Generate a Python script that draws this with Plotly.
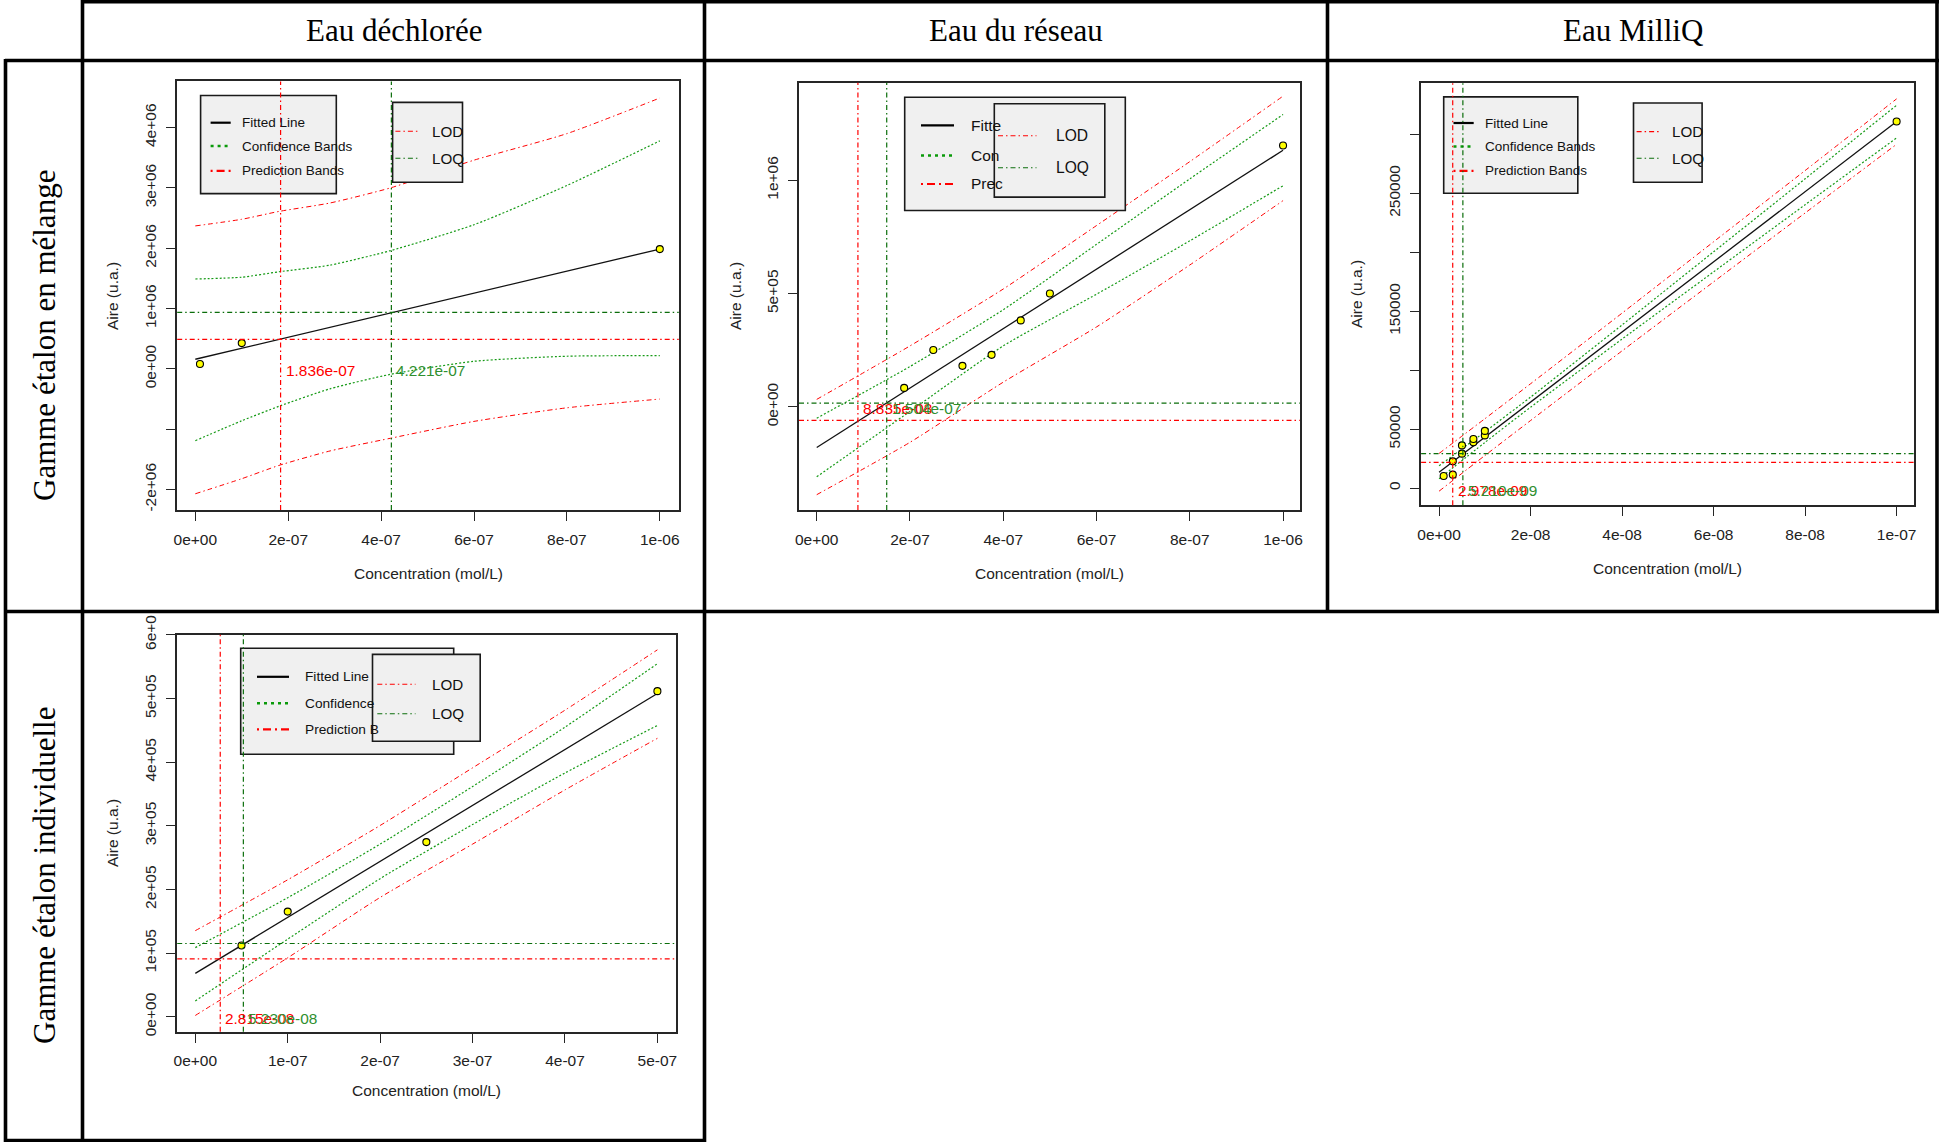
import plotly.graph_objects as go

W, H = 1939, 1142

# ---------------- DATA ----------------
col_titles = ["Eau déchlorée", "Eau du réseau", "Eau MilliQ"]
row_titles = ["Gamme étalon en mélange", "Gamme étalon individuelle"]
x_title = "Concentration (mol/L)"
y_title = "Aire (u.a.)"
legend1_labels = ["Fitted Line", "Confidence Bands", "Prediction Bands"]
legend2_labels = ["LOD", "LOQ"]

# Panel 1 : Eau déchlorée / mélange
p1_x = [1e-8, 1e-7, 1e-6]
p1_y = [0.08e6, 0.428e6, 1.986e6]
p1_fit_x = [0, 1e-6]
p1_fit_y = [0.16e6, 1.986e6]
p1_band_x = [0, 0.1e-6, 0.18e-6, 0.29e-6, 0.42e-6, 0.6e-6, 0.8e-6, 1.0e-6]
p1_pred_up = [2.37e6, 2.48e6, 2.61e6, 2.75e6, 3.0e6, 3.46e6, 3.9e6, 4.49e6]
p1_conf_up = [1.49e6, 1.52e6, 1.61e6, 1.72e6, 1.96e6, 2.39e6, 3.04e6, 3.78e6]
p1_conf_lo = [-1.19e6, -0.86e6, -0.62e6, -0.33e6, -0.09e6, 0.126e6, 0.21e6, 0.22e6]
p1_pred_lo = [-2.07e6, -1.82e6, -1.60e6, -1.36e6, -1.15e6, -0.87e6, -0.645e6, -0.50e6]
p1_lod = (1.836e-7, 0.491e6, "1.836e-07")
p1_loq = (4.221e-7, 0.936e6, "4.221e-07")

# Panel 2 : Eau du réseau / mélange
p2_x = [0.1875e-6, 0.25e-6, 0.3125e-6, 0.375e-6, 0.4375e-6, 0.5e-6, 1e-6]
p2_y = [0.0836e6, 0.2508e6, 0.1809e6, 0.2295e6, 0.3815e6, 0.5e6, 1.1535e6]
p2_fit_x = [0, 1e-6]
p2_fit_y = [-0.179e6, 1.132e6]
p2_band_x = [0, 0.2e-6, 0.4e-6, 0.6e-6, 0.8e-6, 1.0e-6]
p2_pred_up = [0.033e6, 0.269e6, 0.52e6, 0.80e6, 1.082e6, 1.371e6]
p2_conf_up = [-0.05e6, 0.178e6, 0.4286e6, 0.717e6, 1.006e6, 1.29e6]
p2_conf_lo = [-0.3085e6, -0.02e6, 0.269e6, 0.497e6, 0.7325e6, 0.9757e6]
p2_pred_lo = [-0.3875e6, -0.1565e6, 0.109e6, 0.3526e6, 0.626e6, 0.910e6]
p2_lod = (8.835e-8, -0.0593e6, "8.835e-08")
p2_loq = (1.501e-7, 0.0167e6, "1.504e-07")

# Panel 3 : Eau MilliQ / mélange
p3_x = [1e-9, 3e-9, 3e-9, 5e-9, 5e-9, 7.5e-9, 7.5e-9, 1e-8, 1e-8, 1e-7]
p3_y = [10200, 11400, 22700, 29200, 36200, 38800, 41700, 44700, 48500, 310900]
p3_fit_x = [0, 1e-7]
p3_fit_y = [13427, 310850]
p3_band_x = [0, 1e-8, 2e-8, 4e-8, 6e-8, 8e-8, 1e-7]
p3_pred_up = [29400, 58800, 88500, 148400, 208900, 269300, 330100]
p3_conf_up = [18900, 47700, 77200, 138400, 200400, 262300, 324700]
p3_conf_lo = [7900, 38700, 68600, 126400, 183400, 240300, 297000]
p3_pred_lo = [-2600, 27600, 57300, 116400, 174900, 233300, 291600]
p3_lod = (2.98e-9, 21900, "2.978e-09")
p3_loq = (5.2e-9, 29190, "5.210e-09")

# Panel 4 : Eau déchlorée / individuelle
p4_x = [5e-8, 1e-7, 2.5e-7, 5e-7]
p4_y = [1.119e5, 1.652e5, 2.744e5, 5.115e5]
p4_fit_x = [0, 5e-7]
p4_fit_y = [0.682e5, 5.077e5]
p4_band_x = [0, 1e-7, 2e-7, 3e-7, 4e-7, 5e-7]
p4_pred_up = [1.353e5, 2.152e5, 3.005e5, 3.910e5, 4.816e5, 5.764e5]
p4_conf_up = [1.087e5, 1.87e5, 2.712e5, 3.617e5, 4.55e5, 5.546e5]
p4_conf_lo = [0.25e5, 1.22e5, 2.17e5, 3.02e5, 3.83e5, 4.576e5]
p4_pred_lo = [0.021e5, 0.927e5, 1.875e5, 2.712e5, 3.564e5, 4.374e5]
p4_lod = (2.7e-8, 0.911e5, "2.815e-08")
p4_loq = (5.2e-8, 1.151e5, "5.230e-08")

# tick values / labels
p1_xt = [0, 2e-7, 4e-7, 6e-7, 8e-7, 1e-6]
p1_xl = ["0e+00", "2e-07", "4e-07", "6e-07", "8e-07", "1e-06"]
p1_yt = [-2e6, -1e6, 0, 1e6, 2e6, 3e6, 4e6]
p1_yl = ["-2e+06", "", "0e+00", "1e+06", "2e+06", "3e+06", "4e+06"]
p2_xt = p1_xt
p2_xl = p1_xl
p2_yt = [0, 5e5, 1e6]
p2_yl = ["0e+00", "5e+05", "1e+06"]
p3_xt = [0, 2e-8, 4e-8, 6e-8, 8e-8, 1e-7]
p3_xl = ["0e+00", "2e-08", "4e-08", "6e-08", "8e-08", "1e-07"]
p3_yt = [0, 50000, 100000, 150000, 200000, 250000, 300000]
p3_yl = ["0", "50000", "", "150000", "", "250000", ""]
p4_xt = [0, 1e-7, 2e-7, 3e-7, 4e-7, 5e-7]
p4_xl = ["0e+00", "1e-07", "2e-07", "3e-07", "4e-07", "5e-07"]
p4_yt = [0, 1e5, 2e5, 3e5, 4e5, 5e5, 6e5]
p4_yl = ["0e+00", "1e+05", "2e+05", "3e+05", "4e+05", "5e+05", "6e+0"]

# ---------------- STYLE / LAYOUT ----------------
SANS = "Liberation Sans, Arial, sans-serif"
SERIF = "Liberation Serif, Times New Roman, serif"
RED = "#ff0000"
CONF = "#169a16"
LOQC = "#0b6e0b"
LOQT = "#2f8f2f"
DASHDOT = "5px,3px,1.5px,3px"
DOT = "2px,2px"


def fx(p):
    return p / W


def fy(p):
    return 1 - p / H


panels = [
    dict(data=(p1_x, p1_y, p1_fit_x, p1_fit_y, p1_band_x, p1_pred_up, p1_conf_up, p1_conf_lo, p1_pred_lo),
         lod=p1_lod, loq=p1_loq, xt=p1_xt, xl=p1_xl, yt=p1_yt, yl=p1_yl,
         box=(177.2, 81.4, 678.7, 510.1), xr=[-0.039e-6, 1.0407e-6], yr=[-2.3405e6, 4.7655e6],
         xtitle=(428, 573), ytitle=(112, 296),
         leg1=(200.6, 95.5, 336.3, 193.6), l1y=[122.7, 146.1, 170.9], l1s=(210.6, 230.7), l1t=240, l1f=13.5,
         l1txt=legend1_labels,
         leg2=(392.6, 102.4, 462.5, 182.3), l2y=[131.3, 158.2], l2s=(395.4, 419.5), l2t=429.6, l2f=15.2),
    dict(data=(p2_x, p2_y, p2_fit_x, p2_fit_y, p2_band_x, p2_pred_up, p2_conf_up, p2_conf_lo, p2_pred_lo),
         lod=p2_lod, loq=p2_loq, xt=p2_xt, xl=p2_xl, yt=p2_yt, yl=p2_yl,
         box=(799.0, 82.7, 1299.7, 510.1), xr=[-0.038e-6, 1.0357e-6], yr=[-0.4555e6, 1.4303e6],
         xtitle=(1049, 573), ytitle=(735, 296),
         leg1=(904.7, 97.2, 1125.3, 210.5), l1y=[125.4, 155.4, 184.0], l1s=(921, 954), l1t=969, l1f=15.5,
         l1txt=["Fitte", "Con", "Prec"],
         leg2=(994.3, 103.7, 1104.8, 197.1), l2y=[135.8, 167.8], l2s=(998, 1036.5), l2t=1053.8, l2f=15.6),
    dict(data=(p3_x, p3_y, p3_fit_x, p3_fit_y, p3_band_x, p3_pred_up, p3_conf_up, p3_conf_lo, p3_pred_lo),
         lod=p3_lod, loq=p3_loq, xt=p3_xt, xl=p3_xl, yt=p3_yt, yl=p3_yl,
         box=(1421.1, 82.7, 1914.1, 505.3), xr=[-0.0393e-7, 1.0382e-7], yr=[-14586, 343793],
         xtitle=(1667.6, 568), ytitle=(1357, 294),
         leg1=(1443.7, 96.9, 1577.8, 193.3), l1y=[123, 146.4, 170.9], l1s=(1453.5, 1473.7), l1t=1483, l1f=13.5,
         l1txt=legend1_labels,
         leg2=(1633.5, 103, 1702.1, 182.3), l2y=[131.6, 158.2], l2s=(1636.6, 1660), l2t=1669.8, l2f=15.2),
    dict(data=(p4_x, p4_y, p4_fit_x, p4_fit_y, p4_band_x, p4_pred_up, p4_conf_up, p4_conf_lo, p4_pred_lo),
         lod=p4_lod, loq=p4_loq, xt=p4_xt, xl=p4_xl, yt=p4_yt, yl=p4_yl,
         box=(177.2, 634.8, 675.5, 1031.7), xr=[-1.958e-8, 5.1958e-7], yr=[-0.234e5, 6.0e5],
         xtitle=(426, 1090), ytitle=(112, 833),
         leg1=(240.7, 648.3, 453.7, 754.2), l1y=[676.8, 703.3, 729.4], l1s=(257, 289), l1t=303.4, l1f=13.7,
         l1txt=["Fitted Line", "Confidence", "Prediction B"],
         leg2=(372.5, 654.4, 480.2, 741.3), l2y=[684.3, 713.8], l2s=(377.3, 415.5), l2t=429.6, l2f=15.2),
]

fig = go.Figure()
shapes = []
annotations = []
layout_axes = {}

for i, p in enumerate(panels, start=1):
    xa = "x" if i == 1 else f"x{i}"
    ya = "y" if i == 1 else f"y{i}"
    xs, ys, fxs, fys, bx, pu, cu, cl, pl = p["data"]
    L, T, R, B = p["box"]

    # bands
    for yy, col, dash, w in [(pu, RED, DASHDOT, 1.0), (cu, CONF, DOT, 1.2),
                             (cl, CONF, DOT, 1.2), (pl, RED, DASHDOT, 1.0)]:
        fig.add_trace(go.Scatter(x=bx, y=yy, mode="lines", xaxis=xa, yaxis=ya,
                                 line=dict(color=col, width=w, dash=dash, shape="spline", smoothing=0.6),
                                 showlegend=False, hoverinfo="skip"))
    # fitted line
    fig.add_trace(go.Scatter(x=fxs, y=fys, mode="lines", xaxis=xa, yaxis=ya,
                             line=dict(color="#111111", width=1.3), showlegend=False))
    # points
    fig.add_trace(go.Scatter(x=xs, y=ys, mode="markers", xaxis=xa, yaxis=ya,
                             marker=dict(color="#ffff00", size=7, line=dict(color="#000000", width=1.1)),
                             showlegend=False))

    axis_common = dict(showgrid=False, zeroline=False, showline=True, mirror=True,
                       linecolor="#262626", linewidth=1.6, ticks="outside", ticklen=9,
                       tickwidth=1.3, tickcolor="#262626", automargin=False,
                       tickfont=dict(family=SANS, size=15.5, color="#222222"))
    layout_axes["xaxis" if i == 1 else f"xaxis{i}"] = dict(
        axis_common, domain=[fx(L), fx(R)], range=p["xr"], anchor=ya,
        tickmode="array", tickvals=p["xt"], ticktext=p["xl"], ticklabelstandoff=5)
    layout_axes["yaxis" if i == 1 else f"yaxis{i}"] = dict(
        axis_common, domain=[fy(B), fy(T)], range=p["yr"], anchor=xa,
        tickmode="array", tickvals=p["yt"], ticktext=p["yl"], tickangle=-90, ticklabelstandoff=4)

    # axis titles
    annotations.append(dict(text=x_title, x=fx(p["xtitle"][0]), y=fy(p["xtitle"][1]), xref="paper", yref="paper",
                            showarrow=False, xanchor="center", yanchor="middle",
                            font=dict(family=SANS, size=15.5, color="#222222")))
    annotations.append(dict(text=y_title, x=fx(p["ytitle"][0]), y=fy(p["ytitle"][1]), xref="paper", yref="paper",
                            showarrow=False, xanchor="center", yanchor="middle", textangle=-90,
                            font=dict(family=SANS, size=15.5, color="#222222")))

    # legend 1
    l1 = p["leg1"]
    shapes.append(dict(type="rect", xref="paper", yref="paper", x0=fx(l1[0]), x1=fx(l1[2]), y0=fy(l1[3]),
                       y1=fy(l1[1]), fillcolor="#f0f0f0", line=dict(color="#1a1a1a", width=1.6), layer="above"))
    samp = [("#000000", "solid", 2.2), ("#0a9a0a", "3px,4px", 2.5), (RED, "2px,4px,8px,4px", 2.2)]
    for (col, dash, w), yy, txt in zip(samp, p["l1y"], p["l1txt"]):
        shapes.append(dict(type="line", xref="paper", yref="paper", x0=fx(p["l1s"][0]), x1=fx(p["l1s"][1]),
                           y0=fy(yy), y1=fy(yy), line=dict(color=col, width=w, dash=dash), layer="above"))
        annotations.append(dict(text=txt, x=fx(p["l1t"]), y=fy(yy), xref="paper", yref="paper", showarrow=False,
                                xanchor="left", yanchor="middle",
                                font=dict(family=SANS, size=p["l1f"], color="#111111")))
    # legend 2
    l2 = p["leg2"]
    shapes.append(dict(type="rect", xref="paper", yref="paper", x0=fx(l2[0]), x1=fx(l2[2]), y0=fy(l2[3]),
                       y1=fy(l2[1]), fillcolor="#f0f0f0", line=dict(color="#1a1a1a", width=1.6), layer="above"))
    for col, yy, txt in zip([RED, LOQC], p["l2y"], legend2_labels):
        shapes.append(dict(type="line", xref="paper", yref="paper", x0=fx(p["l2s"][0]), x1=fx(p["l2s"][1]),
                           y0=fy(yy), y1=fy(yy), line=dict(color=col, width=1.1, dash=DASHDOT), layer="above"))
        annotations.append(dict(text=txt, x=fx(p["l2t"]), y=fy(yy), xref="paper", yref="paper", showarrow=False,
                                xanchor="left", yanchor="middle",
                                font=dict(family=SANS, size=p["l2f"], color="#111111")))

    # LOD / LOQ lines and labels
    for (xv, yv, lab), col, tcol in [(p["lod"], RED, RED), (p["loq"], LOQC, LOQT)]:
        shapes.append(dict(type="line", xref=xa, yref=f"{ya} domain", x0=xv, x1=xv, y0=0, y1=1,
                           line=dict(color=col, width=1.2, dash=DASHDOT), layer="above"))
        shapes.append(dict(type="line", xref=f"{xa} domain", yref=ya, x0=0, x1=1, y0=yv, y1=yv,
                           line=dict(color=col, width=1.2, dash=DASHDOT), layer="above"))
        annotations.append(dict(text=lab, x=xv, y=0, xref=xa, yref=ya, showarrow=False, xanchor="left",
                                yanchor="middle", xshift=3, yshift=-2,
                                font=dict(family=SANS, size=15.4, color=tcol)))

# ---------------- TABLE FRAME ----------------
LW = 3.6
table_lines = [
    (82, 1.6, 1939, 1.6), (5, 60.5, 1939, 60.5), (5, 611.5, 1939, 611.5), (5, 1140.5, 706, 1140.5),
    (5.5, 59, 5.5, 1142), (82.5, 0, 82.5, 1142), (704.5, 0, 704.5, 1142),
    (1327.5, 0, 1327.5, 613), (1937, 0, 1937, 613),
]
for x0, y0, x1, y1 in table_lines:
    shapes.append(dict(type="line", xref="paper", yref="paper", x0=fx(x0), y0=fy(y0), x1=fx(x1), y1=fy(y1),
                       line=dict(color="#000000", width=LW), layer="above"))

for txt, cx in zip(col_titles, [393.5, 1016, 1632.5]):
    annotations.append(dict(text=txt, x=fx(cx), y=fy(31), xref="paper", yref="paper", showarrow=False,
                            xanchor="center", yanchor="middle", font=dict(family=SERIF, size=31, color="#000000")))
for txt, cy in zip(row_titles, [336, 876]):
    annotations.append(dict(text=txt, x=fx(44), y=fy(cy), xref="paper", yref="paper", showarrow=False,
                            xanchor="center", yanchor="middle", textangle=-90,
                            font=dict(family=SERIF, size=31, color="#000000")))

fig.update_layout(width=W, height=H, margin=dict(l=0, r=0, t=0, b=0, pad=0, autoexpand=False),
                  paper_bgcolor="white", plot_bgcolor="white", showlegend=False,
                  shapes=shapes, annotations=annotations, **layout_axes)

post = ("var d=document.getElementById('{plot_id}');"
        "document.documentElement.style.margin='0';document.documentElement.style.overflow='hidden';"
        "document.body.style.margin='0';document.body.style.padding='0';document.body.style.overflow='hidden';"
        "d.style.position='absolute';d.style.left='0px';d.style.top='0px';")
fig.write_html("out.html", post_script=post, config={"displayModeBar": False})
